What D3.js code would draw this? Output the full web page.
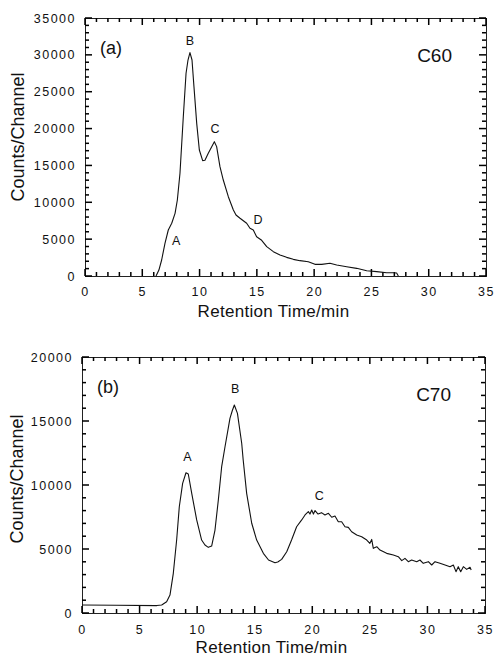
<!DOCTYPE html>
<html>
<head>
<meta charset="utf-8">
<script src="https://cdn.jsdelivr.net/npm/d3@7"></script>
<style>
  html, body { margin: 0; padding: 0; background: #fff; }
  svg { display: block; font-family: "Liberation Sans", Arial, sans-serif; }
</style>
</head>
<body>
<div id="chart"></div>
<script>
// C60 溶出曲線 (a)  [保持時間 min, counts/channel]
var C60_TIME = [6.2, 6.45, 6.69, 6.98, 7.27, 7.57, 7.86, 8.06, 8.29, 8.58, 8.82, 8.99, 9.16, 9.34, 9.51,
  9.75, 9.98, 10.27, 10.47, 10.76, 11.06, 11.29, 11.49, 11.78, 12.07, 12.51, 12.95, 13.18, 13.53, 14.11,
  14.4, 14.69, 14.98, 15.42, 15.86, 16.44, 17.02, 17.6, 18.18, 18.77, 19.49, 20.07, 20.66, 21.38, 21.97,
  22.84, 23.71, 24.59, 25.46, 26.33, 26.9, 27.2, 27.35];
var C60_COUNTS = [0, 800, 2170, 4440, 6240, 7150, 8500, 10310, 13930, 21610, 27500, 29300, 30300, 29300, 25690,
  20710, 17090, 15650, 15700, 16640, 17550, 18220, 17550, 14830, 13020, 10760, 8950, 8280, 7830, 7150,
  6470, 6240, 5330, 4840, 3980, 3300, 2850, 2530, 2260, 2080, 1940, 1580, 1580, 1720, 1490,
  1260, 1040, 720, 590, 450, 450, 400, 0];

// C70 溶出曲線 (b)
var C70_TIME = [0, 3, 6.5, 6.92, 7.35, 7.64, 7.93, 8.22, 8.45, 8.74, 9.03, 9.23, 9.53, 9.96, 10.39,
  10.68, 10.97, 11.26, 11.55, 11.84, 12.13, 12.42, 12.85, 13.05, 13.23, 13.5, 13.87, 14.0, 14.3, 14.74,
  15.17, 15.75, 16.2, 16.76, 17.0, 17.34, 17.78, 18.2, 18.64, 19.08, 19.37, 19.66, 19.8, 19.95, 20.1,
  20.24, 20.5, 20.8, 21.1, 21.4, 21.69, 21.97, 22.26, 22.55, 22.84, 23.13, 23.42, 23.86, 24.29, 24.73,
  25.0, 25.16, 25.3, 25.6, 25.88, 26.46, 27.04, 27.47, 27.77, 28.05, 28.34, 28.63, 29.07, 29.35, 29.64,
  30.08, 30.37, 30.66, 31.09, 31.53, 31.96, 32.25, 32.48, 32.68, 32.89, 33.12, 33.41, 33.7, 33.8];
var C70_COUNTS = [620, 600, 580, 625, 885, 1400, 3100, 5700, 8300, 10130, 10960, 10860, 9350, 7270, 5700,
  5310, 5130, 5230, 6480, 8830, 11430, 12990, 15210, 15800, 16250, 15600, 13260, 11950, 9350, 7010,
  5700, 4660, 4140, 3930, 3980, 4190, 4790, 5700, 6740, 7270, 7660, 7920, 7730, 8050, 7730,
  8000, 7730, 7840, 7660, 7790, 7480, 7580, 7130, 7130, 6740, 6690, 6350, 6090, 5960, 5700,
  5440, 5750, 5050, 5180, 4920, 4660, 4530, 4400, 4090, 4270, 4010, 4140, 4010, 4140, 3880,
  4010, 3750, 4010, 3880, 3750, 3620, 3750, 3230, 3620, 3230, 3620, 3410, 3570, 3360];

var X_TICKS = [0, 5, 10, 15, 20, 25, 30, 35];
var Y_TICKS_A = [0, 5000, 10000, 15000, 20000, 25000, 30000, 35000];
var Y_TICKS_B = [0, 5000, 10000, 15000, 20000];

// ピークラベル [時間, counts, 文字]
var PEAKS_A = [[7.95, 4200, 'A'], [9.15, 31400, 'B'], [11.35, 19400, 'C'], [15.1, 7000, 'D']];
var PEAKS_B = [[9.15, 11900, 'A'], [13.3, 17200, 'B'], [20.6, 8800, 'C']];

var W = 494, H = 660;
var svg = d3.select('#chart').append('svg').attr('width', W).attr('height', H);

function drawPanel(o) {
  var x = d3.scaleLinear().domain([0, 35]).range([o.left, o.right]);
  var y = d3.scaleLinear().domain([0, o.ymax]).range([o.bottom, o.top]);
  var g = svg.append('g');
  var minorX = d3.range(0, 36, 1);
  var minorY = d3.range(0, o.ymax + 1, 1000);

  g.append('rect').attr('x', o.left + 0.5).attr('y', o.top + 0.5)
    .attr('width', o.right - o.left).attr('height', o.bottom - o.top)
    .attr('fill', 'none').attr('stroke', '#222').attr('stroke-width', 1);

  // 目盛り（四辺とも内向き）: 小さな矩形で描く
  function tlen(major) { return major ? 7 : 4; }
  [[o.bottom, -1], [o.top, 1]].forEach(function (s) {
    g.selectAll(null).data(minorX).enter().append('rect')
      .attr('x', function (d) { return x(d) - 0.75; })
      .attr('y', function (d) { return s[1] < 0 ? s[0] - tlen(d % 5 === 0) : s[0]; })
      .attr('width', 1.5)
      .attr('height', function (d) { return tlen(d % 5 === 0); })
      .attr('fill', '#000');
  });
  [[o.left, 1], [o.right, -1]].forEach(function (s) {
    g.selectAll(null).data(minorY).enter().append('rect')
      .attr('y', function (d) { return y(d) - 0.75; })
      .attr('x', function (d) { return s[1] > 0 ? s[0] : s[0] - tlen(d % 5000 === 0); })
      .attr('height', 1.5)
      .attr('width', function (d) { return tlen(d % 5000 === 0); })
      .attr('fill', '#000');
  });

  // 目盛りラベル
  var ax = g.append('g').attr('transform', 'translate(0,' + o.bottom + ')')
    .call(d3.axisBottom(x).tickValues(X_TICKS).tickSize(0).tickPadding(o.xPad).tickFormat(d3.format('d')));
  var ay = g.append('g').attr('transform', 'translate(' + o.left + ',0)')
    .call(d3.axisLeft(y).tickValues(o.yTicks).tickSize(0).tickPadding(9).tickFormat(d3.format('d')));
  [ax, ay].forEach(function (a) {
    a.select('.domain').remove();
    a.selectAll('text').attr('fill', '#111').attr('font-size', 12.5)
      .attr('letter-spacing', 1.5).style('font-family', '"Liberation Sans", Arial, sans-serif');
  });

  var line = d3.line()
    .x(function (d, i) { return x(o.time[i]); })
    .y(function (d) { return y(d); });
  g.append('path').datum(o.counts).attr('d', line)
    .attr('fill', 'none').attr('stroke', '#111').attr('stroke-width', 1.1)
    .attr('stroke-linejoin', 'round');

  o.peaks.forEach(function (pk) {
    g.append('text').attr('x', x(pk[0])).attr('y', y(pk[1]))
      .attr('text-anchor', 'middle').attr('font-size', 12.5).attr('fill', '#111').text(pk[2]);
  });

  g.append('text').attr('x', o.left + 15).attr('y', o.top + 36)
    .attr('font-size', 18).attr('fill', '#111').text(o.tag);
  g.append('text').attr('x', o.right - 34).attr('y', o.top + 44)
    .attr('text-anchor', 'end').attr('font-size', 19).attr('fill', '#111').text(o.name);

  g.append('text').attr('x', (o.left + o.right) / 2 - 12).attr('y', o.bottom + o.xlabDy)
    .attr('text-anchor', 'middle').attr('font-size', 17).attr('fill', '#111')
    .attr('letter-spacing', 0.3).text('Retention Time/min');
  g.append('text')
    .attr('transform', 'translate(' + o.ylabX + ',' + o.ylabY + ') rotate(-90)')
    .attr('text-anchor', 'middle').attr('font-size', 18).attr('fill', '#111')
    .text('Counts/Channel');
}

drawPanel({ left: 85, right: 486, top: 18, bottom: 276, ymax: 35000, yTicks: Y_TICKS_A,
  time: C60_TIME, counts: C60_COUNTS, peaks: PEAKS_A, tag: '(a)', name: 'C60',
  ylabX: 24, ylabY: 137, xlabDy: 41, xPad: 11 });
drawPanel({ left: 82, right: 485, top: 357, bottom: 613, ymax: 20000, yTicks: Y_TICKS_B,
  time: C70_TIME, counts: C70_COUNTS, peaks: PEAKS_B, tag: '(b)', name: 'C70',
  ylabX: 23, ylabY: 479, xlabDy: 40, xPad: 12 });
</script>
</body>
</html>
